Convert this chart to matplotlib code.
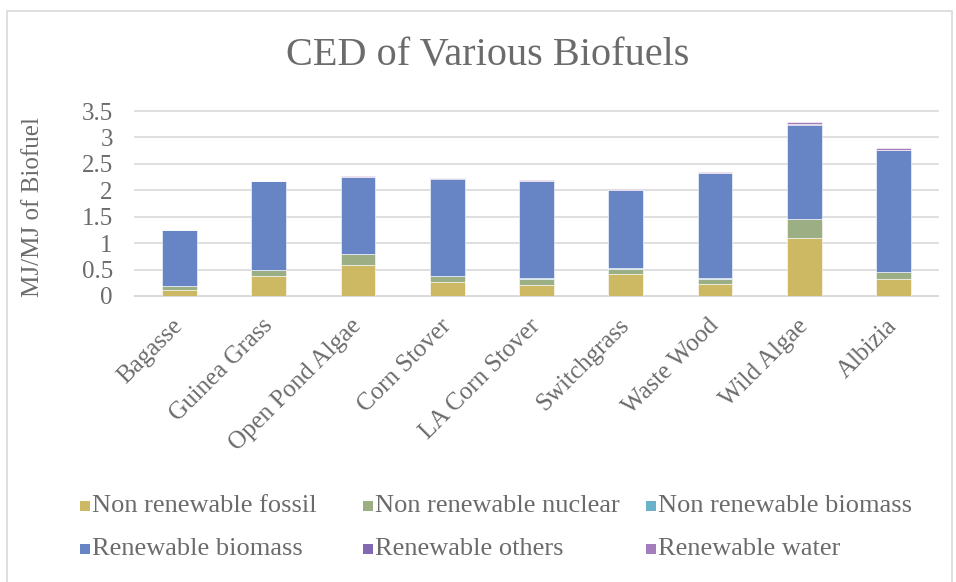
import numpy as np
import matplotlib.pyplot as plt
from matplotlib.patches import Rectangle

categories = ['Bagasse', 'Guinea Grass', 'Open Pond Algae', 'Corn Stover', 'LA Corn Stover',
              'Switchgrass', 'Waste Wood', 'Wild Algae', 'Albizia']
nr_fossil = [0.11, 0.385, 0.59, 0.26, 0.21, 0.42, 0.22, 1.09, 0.32]
nr_nuclear = [0.08, 0.105, 0.20, 0.11, 0.12, 0.10, 0.11, 0.36, 0.13]
nr_biomass = [0.002, 0.002, 0.002, 0.002, 0.002, 0.002, 0.002, 0.004, 0.003]
r_biomass = [1.05, 1.68, 1.46, 1.85, 1.84, 1.48, 2.00, 1.78, 2.31]
r_others = [0.002, 0.003, 0.003, 0.003, 0.003, 0.003, 0.003, 0.015, 0.005]
r_water = [0.01, 0.01, 0.01, 0.01, 0.02, 0.02, 0.02, 0.035, 0.025]

series = [nr_fossil, nr_nuclear, nr_biomass, r_biomass, r_others, r_water]
names = ['Non renewable fossil', 'Non renewable nuclear', 'Non renewable biomass',
         'Renewable biomass', 'Renewable others', 'Renewable water']
colors = ['#CDB864', '#9CAF84', '#6BB1C9', '#6785C4', '#8069B2', '#A47DBD']

plt.rcParams['font.family'] = ['Liberation Serif', 'DejaVu Serif']
txt = '#6b6b6b'
W, H = 956, 582

fig = plt.figure(figsize=(W / 100, H / 100), dpi=100)
ax = fig.add_axes([135 / W, 1 - 296 / H, 803 / W, 185 / H])

x = np.arange(len(categories))
bottom = np.zeros(len(categories))
for vals, name, c in zip(series, names, colors):
    ax.bar(x, vals, 0.39, bottom=bottom, color=c, edgecolor='white', linewidth=0.4, label=name, zorder=3)
    bottom += np.array(vals)

ax.set_xlim(-0.5, len(categories) - 0.5)
ax.set_ylim(0, 3.5)
ax.set_yticks(np.arange(0, 3.51, 0.5))
ax.set_yticklabels(['0', '0.5', '1', '1.5', '2', '2.5', '3', '3.5'])
ax.yaxis.grid(True, color='#D9D9D9', linewidth=1.2, zorder=0, clip_on=False)
for s in ['top', 'right', 'left']:
    ax.spines[s].set_visible(False)
ax.spines['bottom'].set_color('#D9D9D9')
ax.spines['bottom'].set_linewidth(1.2)
ax.tick_params(axis='both', length=0, colors=txt, labelsize=18)
ax.tick_params(axis='y', pad=16)
ax.set_xticks(x)
ax.set_xticklabels(categories, rotation=45, ha='right', va='center', rotation_mode='anchor')
ax.tick_params(axis='x', pad=19)

fig.text(33 / W, 1 - 207 / H, 'MJ/MJ of Biofuel', rotation=90, ha='center', va='center',
         fontsize=18, color=txt)
fig.text(488 / W, 1 - 55 / H, 'CED of Various Biofuels', ha='center', va='center', fontsize=29, color=txt)

# legend, row by row like the original
col_x = [80, 363, 646]
row_y = [506, 549]
for i, (name, c) in enumerate(zip(names, colors)):
    lx = col_x[i % 3]
    ly = row_y[i // 3]
    fig.patches.append(Rectangle((lx / W, 1 - (ly + 5) / H), 10 / W, 10 / H, transform=fig.transFigure,
                                 facecolor=c, edgecolor='none'))
    fig.text((lx + 12) / W, 1 - ly / H, name, ha='left', va='center', fontsize=19, color=txt)

fig.patches.append(Rectangle((7 / W, -0.1), 945 / W, 1 - 11 / H + 0.1, transform=fig.transFigure,
                             fill=False, edgecolor='#D9D9D9', linewidth=1.2))

fig.savefig('out.png', dpi=100)
